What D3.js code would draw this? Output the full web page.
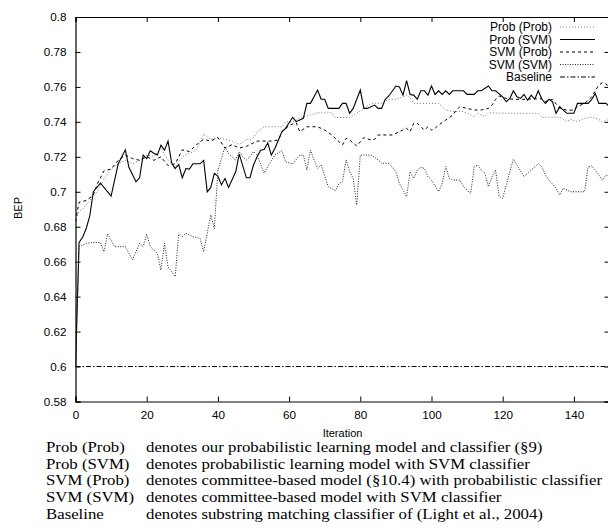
<!DOCTYPE html>
<html><head><meta charset="utf-8">
<script src="https://cdn.jsdelivr.net/npm/d3@7"></script>
<style>body{margin:0;background:#fff;} svg{display:block;}</style>
</head><body>
<svg id="c" width="608" height="531"></svg>
<script>
// ---- data ----
const xTicks = [0,20,40,60,80,100,120,140];
const yTicks = [0.58,0.6,0.62,0.64,0.66,0.68,0.7,0.72,0.74,0.76,0.78,0.8];
const seriesNames = ["Prob (Prob)","Prob (SVM)","SVM (Prob)","SVM (SVM)","Baseline"];

const probProbX = [0,1,2,4,6,8,10,12,14,16,18,20,22,24,26,28,30,32,34,36,38,40,42,44,46,48,49,50,51,53,58,59,61,63,66,68,72,73,77,79,81,83,86,88,90,93,94,95,102,104,106,109,111,112,113,115,116,121,130,131,136,138,139,141,143,145,147,148,150];
const probProbY = [0.683,0.689,0.690,0.695,0.700,0.707,0.713,0.716,0.718,0.716,0.718,0.721,0.720,0.725,0.718,0.714,0.720,0.722,0.724,0.733,0.730,0.731,0.730,0.729,0.727,0.730,0.7296,0.731,0.7344,0.7372,0.7372,0.740,0.740,0.742,0.744,0.7452,0.7452,0.7425,0.7425,0.7449,0.7477,0.7506,0.7506,0.7529,0.7529,0.7553,0.754,0.7506,0.7506,0.7468,0.7459,0.7459,0.744,0.743,0.7449,0.743,0.7452,0.7449,0.7449,0.7426,0.7426,0.7401,0.7414,0.7401,0.742,0.7426,0.7414,0.7401,0.7414];

const probSvmX = [0,1,2,3,4,5,7,10,12,14,15,17,18,19,20,21,22,23,24,25,26,27,28,29,30,31,32,33,35,36,37,38,39,40,41,42,43,45,46,48,49,50,51,52,53,54,55,56,58,59,61,62,64,65,66,68,69,70,71,74,75,76,77,78,80,81,82,84,85,86,87,88,90,91,92,93,94,95,96,97,98,99,100,101,102,103,104,105,106,109,110,112,113,114,116,117,118,120,121,122,123,124,125,126,127,128,129,130,131,132,133,134,135,136,137,138,140,141,144,145,146,147,149,150];
const probSvmY = [0.600,0.671,0.674,0.679,0.686,0.700,0.705,0.6975,0.716,0.724,0.714,0.7057,0.708,0.721,0.719,0.7234,0.722,0.721,0.7267,0.7238,0.729,0.7166,0.7133,0.7156,0.708,0.7133,0.713,0.716,0.716,0.718,0.700,0.7025,0.7105,0.709,0.704,0.7076,0.7025,0.7114,0.7215,0.708,0.708,0.7153,0.720,0.7238,0.7242,0.728,0.721,0.7248,0.7344,0.7363,0.7426,0.7401,0.742,0.7506,0.7506,0.7582,0.7529,0.7529,0.7477,0.7477,0.7506,0.7506,0.7449,0.7477,0.7582,0.7477,0.7477,0.7496,0.7477,0.7477,0.7529,0.7548,0.7605,0.760,0.7553,0.7636,0.7557,0.7553,0.7529,0.7578,0.7578,0.7553,0.7605,0.7557,0.7578,0.7557,0.7578,0.7557,0.7578,0.7578,0.7557,0.7557,0.7578,0.7578,0.7605,0.7578,0.7578,0.7543,0.7515,0.7534,0.7578,0.7543,0.7534,0.7557,0.7524,0.7553,0.7529,0.7578,0.7529,0.7506,0.7529,0.7515,0.7449,0.7487,0.7467,0.7449,0.7449,0.7506,0.7506,0.7529,0.7562,0.7506,0.7506,0.7487];

const svmProbX = [0,1,3,5,6,8,10,12,14,16,18,20,22,24,26,28,30,32,34,36,38,40,42,44,46,48,50,51,55,57,58,59,60,62,63,65,68,70,72,75,76,77,79,81,83,84,85,89,91,93,94,95,96,97,98,99,100,101,102,104,106,107,108,110,112,114,116,117,118,119,121,123,127,129,130,131,132,134,136,138,140,141,143,144,145,146,147,148,149,150];
const svmProbY = [0.683,0.694,0.695,0.698,0.704,0.712,0.713,0.718,0.721,0.719,0.718,0.720,0.718,0.720,0.715,0.716,0.724,0.723,0.727,0.730,0.729,0.731,0.725,0.727,0.725,0.726,0.728,0.7290,0.7290,0.7296,0.7344,0.736,0.738,0.7395,0.7344,0.7372,0.7372,0.7353,0.7325,0.7268,0.7306,0.7296,0.7262,0.731,0.7296,0.730,0.7325,0.7325,0.7344,0.7363,0.7344,0.7392,0.7392,0.7372,0.7353,0.7372,0.7353,0.7363,0.7382,0.741,0.7439,0.7468,0.7487,0.7477,0.7468,0.7468,0.7477,0.7496,0.7529,0.7548,0.7534,0.7529,0.7529,0.7534,0.7529,0.7534,0.7516,0.7529,0.7477,0.7467,0.7467,0.7487,0.7506,0.7524,0.7543,0.7578,0.7611,0.7624,0.7617,0.7601];

const svmSvmX = [0,1,3,5,7,8,9,11,14,16,18,19,20,21,23,24,25,26,28,29,30,31,33,35,36,37,38,39,40,41,42,43,45,46,47,48,49,50,51,53,54,56,58,59,61,63,64,65,66,67,68,69,71,73,74,75,76,77,78,79,80,83,84,85,86,88,90,91,93,94,95,96,97,98,99,100,102,103,104,105,106,108,109,111,112,113,114,115,116,117,118,119,120,121,122,123,124,126,128,130,131,132,133,135,136,137,139,143,144,145,146,147,148,149,150];
const svmSvmY = [0.600,0.6686,0.6705,0.671,0.671,0.6657,0.6758,0.6686,0.6686,0.661,0.6705,0.6686,0.6758,0.6686,0.6648,0.6552,0.6705,0.657,0.6514,0.6762,0.6743,0.6762,0.6743,0.6733,0.6657,0.6762,0.6867,0.679,0.7124,0.719,0.7257,0.7219,0.7181,0.7229,0.720,0.7181,0.7201,0.723,0.7211,0.7106,0.7144,0.721,0.7235,0.7172,0.7159,0.721,0.721,0.7124,0.7239,0.7182,0.7134,0.7153,0.7029,0.7006,0.7048,0.7058,0.7182,0.7115,0.7077,0.6924,0.721,0.721,0.7197,0.7182,0.7163,0.7163,0.7115,0.7048,0.6972,0.7115,0.7077,0.7124,0.714,0.7134,0.7086,0.7067,0.7,0.7048,0.7144,0.7077,0.7067,0.7067,0.7029,0.699,0.7143,0.7153,0.7124,0.7105,0.7029,0.7086,0.7124,0.6972,0.6963,0.7038,0.7115,0.7186,0.7153,0.7086,0.7124,0.716,0.7143,0.7096,0.7067,0.702,0.6981,0.702,0.700,0.700,0.7143,0.7148,0.7124,0.7096,0.7067,0.7096,0.7086];

const baselineX = [0,150];
const baselineY = [0.6,0.6];

const footKeys = ["Prob (Prob)","Prob (SVM)","SVM (Prob)","SVM (SVM)","Baseline"];
const footTexts = [
 "denotes our probabilistic learning model and classifier (§9)",
 "denotes probabilistic learning model with SVM classifier",
 "denotes committee-based model (§10.4) with probabilistic classifier",
 "denotes committee-based model with SVM classifier",
 "denotes substring matching classifier of (Light et al., 2004)"
];

// ---- drawing ----
const svg = d3.select("#c");
const L = 75.5, R = 609.5, T = 17, B = 401.5;
const x = d3.scaleLinear().domain([0,150]).range([L,R]);
const y = d3.scaleLinear().domain([0.58,0.8]).range([B,T]);
const sans = "'Liberation Sans', Arial, Helvetica, sans-serif";
const serif = "'Liberation Serif', 'Times New Roman', serif";

const styles = {
 "Prob (Prob)": {stroke:"#777", dash:"1,2", w:1},
 "Prob (SVM)": {stroke:"#000", dash:null, w:1.1},
 "SVM (Prob)": {stroke:"#000", dash:"3,3", w:1},
 "SVM (SVM)": {stroke:"#222", dash:"1,1.5", w:1},
 "Baseline": {stroke:"#000", dash:"5,2,1.5,2", w:1}
};

const data = [
 {name:"Prob (Prob)", xs:probProbX, ys:probProbY},
 {name:"Prob (SVM)", xs:probSvmX, ys:probSvmY},
 {name:"SVM (Prob)", xs:svmProbX, ys:svmProbY},
 {name:"SVM (SVM)", xs:svmSvmX, ys:svmSvmY},
 {name:"Baseline", xs:baselineX, ys:baselineY}
];

// axes (inward ticks, mirrored)
const gL = svg.append("g").attr("transform",`translate(${L},0)`)
  .call(d3.axisLeft(y).tickValues(yTicks).tickSize(-5).tickPadding(9).tickFormat(d3.format("")));
const gR = svg.append("g").attr("transform",`translate(${R},0)`)
  .call(d3.axisRight(y).tickValues(yTicks).tickSize(-5).tickFormat(""));
const gB = svg.append("g").attr("transform",`translate(0,${B})`)
  .call(d3.axisBottom(x).tickValues(xTicks).tickSize(-5).tickPadding(9));
const gT = svg.append("g").attr("transform",`translate(0,${T})`)
  .call(d3.axisTop(x).tickValues(xTicks).tickSize(-5).tickFormat(""));
[gL,gR,gB,gT].forEach(g=>{
  g.selectAll("path.domain").attr("stroke","#000").attr("stroke-width",1.2);
  g.selectAll(".tick line").attr("stroke","#000");
  g.selectAll("text").attr("font-family",sans).attr("font-size","11.7px").attr("fill","#000");
});

const clip = svg.append("clipPath").attr("id","pc").append("rect")
  .attr("x",L).attr("y",T).attr("width",R-L).attr("height",B-T);

const line = d3.line().x(d=>x(d[0])).y(d=>y(d[1]));
const plot = svg.append("g").attr("clip-path","url(#pc)");
data.forEach(s=>{
  const st = styles[s.name];
  plot.append("path").datum(s.xs.map((v,i)=>[v,s.ys[i]]))
    .attr("d",line).attr("fill","none").attr("stroke",st.stroke)
    .attr("stroke-width",st.w).attr("stroke-dasharray",st.dash)
    .attr("stroke-linejoin","miter");
});

// legend
const lg = svg.append("g");
seriesNames.forEach((n,i)=>{
  const yy = 27 + i*12.5;
  const st = styles[n];
  lg.append("text").attr("x",552).attr("y",yy).attr("dy","0.35em")
    .attr("text-anchor","end").attr("font-family",sans).attr("font-size","12px").text(n);
  lg.append("line").attr("x1",560).attr("x2",595).attr("y1",yy).attr("y2",yy)
    .attr("stroke",st.stroke).attr("stroke-width",st.w).attr("stroke-dasharray",st.dash);
});

// axis titles
svg.append("text").attr("x",(L+R)/2).attr("y",433).attr("dy","0.35em").attr("text-anchor","middle")
  .attr("font-family",sans).attr("font-size","11px").text("Iteration");
svg.append("text").attr("transform","translate(18,208) rotate(-90)").attr("dy","0.35em")
  .attr("text-anchor","middle").attr("font-family",sans).attr("font-size","11px").text("BEP");

// footer (slightly wide Times, as in the reference)
const rowsY = [447,463.5,480,497,513.5];
footKeys.forEach((k,i)=>{
  svg.append("text").attr("transform",`translate(46,${rowsY[i]}) scale(1.15,1)`).attr("dy","0.35em")
    .attr("font-family",serif).attr("font-size","14.6px").text(k);
  svg.append("text").attr("transform",`translate(146,${rowsY[i]}) scale(1.15,1)`).attr("dy","0.35em")
    .attr("font-family",serif).attr("font-size","14.6px").text(footTexts[i]);
});
</script>
</body></html>
